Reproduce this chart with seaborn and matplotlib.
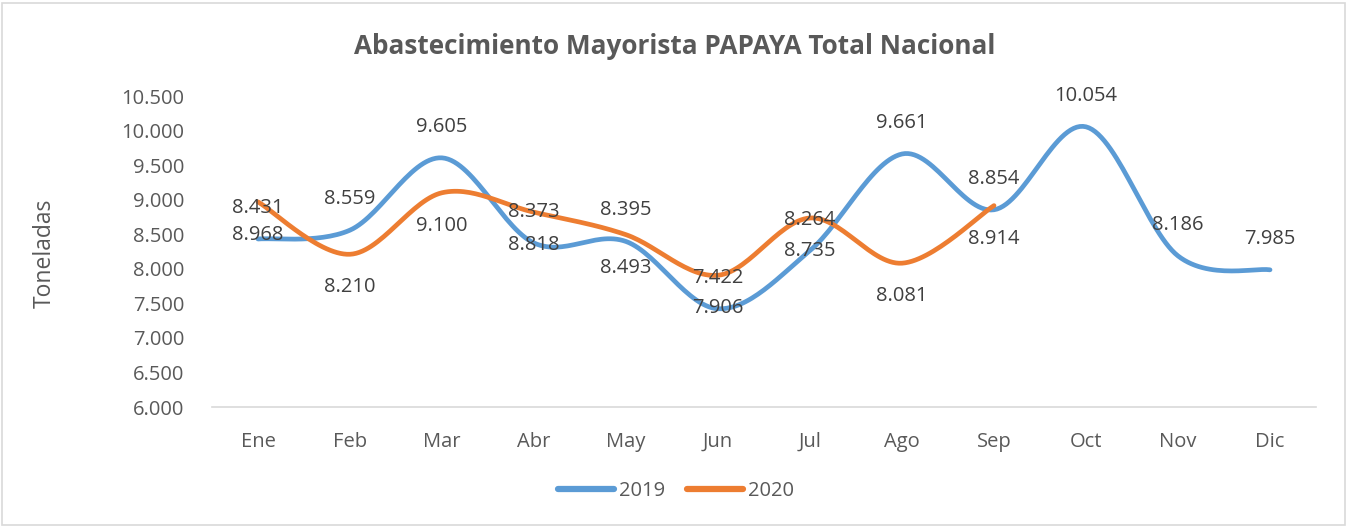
import numpy as np
import pandas as pd
import matplotlib
matplotlib.use("Agg")
import matplotlib.pyplot as plt
import seaborn as sns
from matplotlib.patches import Rectangle

months = ["Ene", "Feb", "Mar", "Abr", "May", "Jun", "Jul", "Ago", "Sep", "Oct", "Nov", "Dic"]
v2019 = [8431, 8559, 9605, 8373, 8395, 7422, 8264, 9661, 8854, 10054, 8186, 7985]
v2020 = [8968, 8210, 9100, 8818, 8493, 7906, 8735, 8081, 8914]
series_names = ["2019", "2020"]
yticks = [6000, 6500, 7000, 7500, 8000, 8500, 9000, 9500, 10000, 10500]

BLUE = "#5B9BD5"
ORANGE = "#ED7D31"
TXT = "#595959"
LBL = "#404040"


def smooth(y, n=30):
    """Catmull-Rom style bezier like Excel smoothed lines (drawing only)."""
    y = np.asarray(y, float)
    x = np.arange(len(y), dtype=float)
    xs, ys = [], []
    for i in range(len(y) - 1):
        p0 = np.array([x[max(i - 1, 0)], y[max(i - 1, 0)]])
        p1 = np.array([x[i], y[i]])
        p2 = np.array([x[i + 1], y[i + 1]])
        p3 = np.array([x[min(i + 2, len(y) - 1)], y[min(i + 2, len(y) - 1)]])
        c1 = p1 + (p2 - p0) / 6.0
        c2 = p2 - (p3 - p1) / 6.0
        t = np.linspace(0, 1, n, endpoint=(i == len(y) - 2))
        b = ((1 - t) ** 3)[:, None] * p1 + (3 * (1 - t) ** 2 * t)[:, None] * c1 \
            + (3 * (1 - t) * t ** 2)[:, None] * c2 + (t ** 3)[:, None] * p2
        xs.extend(b[:, 0]); ys.extend(b[:, 1])
    return np.array(xs), np.array(ys)


sns.set_style("white")
plt.rcParams["font.family"] = ["Open Sans", "DejaVu Sans"]

fig = plt.figure(figsize=(13.48, 5.27), dpi=100)
ax = fig.add_axes([212 / 1348, 1 - 407 / 527, (1316 - 212) / 1348, (407 - 96) / 527])

frames = []
for name, vals in zip(series_names, [v2019, v2020]):
    sx, sy = smooth(vals)
    frames.append(pd.DataFrame({"x": sx, "y": sy, "serie": name}))
df = pd.concat(frames, ignore_index=True)

sns.lineplot(data=df, x="x", y="y", hue="serie", palette=[BLUE, ORANGE], sort=False,
             estimator=None, units="serie", linewidth=3.4, ax=ax, legend=True,
             solid_capstyle="round")

for i, v in enumerate(v2019):
    ax.annotate(f"{v/1000:.3f}", (i, v), xytext=(0, 31), textcoords="offset pixels",
                ha="center", va="center", fontsize=14.5, color=LBL)
for i, v in enumerate(v2020):
    ax.annotate(f"{v/1000:.3f}", (i, v), xytext=(0, -33), textcoords="offset pixels",
                ha="center", va="center", fontsize=14.5, color=LBL)

ax.set_xlim(-0.5, 11.5)
ax.set_ylim(6000, 10500)
ax.set_xticks(range(12))
ax.set_xticklabels(months)
ax.set_yticks(yticks)
ax.set_yticklabels([f"{t/1000:.3f}" for t in yticks])
ax.tick_params(axis="both", length=0, labelsize=14.5, colors=TXT)
ax.tick_params(axis="x", pad=18)
ax.tick_params(axis="y", pad=20)
for s in ["top", "right", "left"]:
    ax.spines[s].set_visible(False)
ax.spines["bottom"].set_color("#D9D9D9")
ax.spines["bottom"].set_linewidth(1.2)
ax.set_xlabel("")
ax.set_ylabel("Toneladas", fontsize=16.5, color=TXT)
ax.yaxis.set_label_coords(57 / 1348, 1 - 253 / 527, transform=fig.transFigure)

fig.text(675 / 1348, 1 - 46 / 527, "Abastecimiento Mayorista PAPAYA Total Nacional",
         ha="center", va="center", fontsize=18.8, fontweight="bold", color=TXT)

leg = ax.legend(loc="center", bbox_to_anchor=(676 / 1348, 1 - 491 / 527),
                bbox_transform=fig.transFigure, ncol=2, frameon=False,
                fontsize=14.5, handlelength=2.8, columnspacing=1.05, handletextpad=0.25)
for t in leg.get_texts():
    t.set_color(TXT)
for h in leg.get_lines():
    h.set_linewidth(4.5)
    h.set_solid_capstyle("round")

fig.patches.append(Rectangle((2 / 1348, 2 / 527), 1343 / 1348, 522 / 527, transform=fig.transFigure,
                             fill=False, edgecolor="#D9D9D9", linewidth=1.2))

fig.savefig("out.png", dpi=100)
